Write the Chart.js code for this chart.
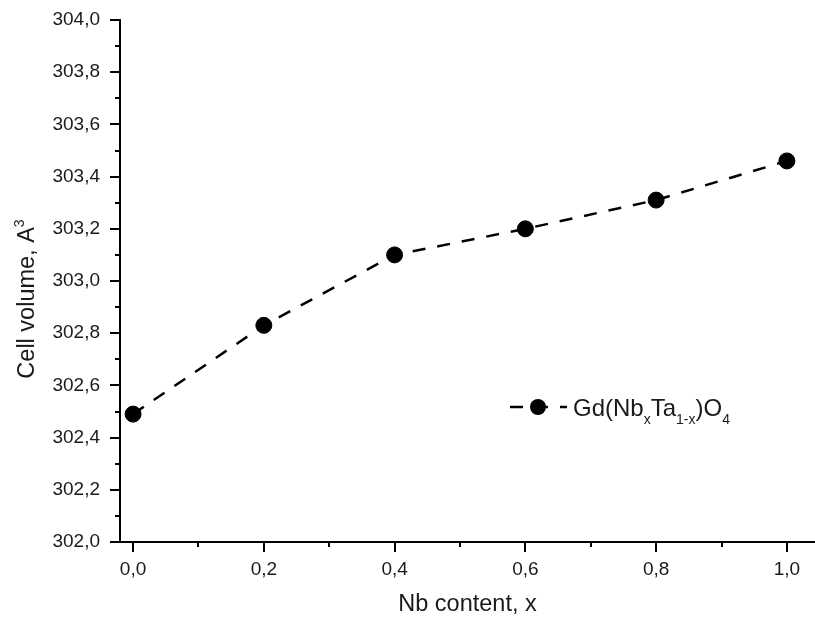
<!DOCTYPE html>
<html>
<head>
<meta charset="utf-8">
<script src="https://cdn.jsdelivr.net/npm/chart.js@4.4.1/dist/chart.umd.min.js"></script>
<style>
  html, body { margin: 0; padding: 0; background: #fff; }
  #wrap { width: 815px; height: 624px; }
</style>
</head>
<body>
<div id="wrap"><canvas id="volume-chart" width="815" height="624"></canvas></div>
<script>
// Nb content (x) and refined cell volume
const nbContent = [0.0, 0.2, 0.4, 0.6, 0.8, 1.0];
const cellVolume = [302.49, 302.83, 303.10, 303.20, 303.31, 303.46];
const seriesName = 'Gd(NbxTa1-x)O4';
// legend text split into normal / subscript pieces
const legendParts = [
  { text: 'Gd(Nb', sub: false },
  { text: 'x', sub: true },
  { text: 'Ta', sub: false },
  { text: '1-x', sub: true },
  { text: ')O', sub: false },
  { text: '4', sub: true }
];
// y title with the superscript unit power
const yTitleParts = [
  { text: 'Cell volume, A', sup: false },
  { text: '3', sup: true }
];

const FONT = '"Liberation Sans", Arial, sans-serif';
const DASH = [13, 12];

const fmt = v => v.toFixed(1).replace('.', ',');
const isMajor = v => Math.round(v * 10) % 2 === 0;

// outward ticks: long on the labelled values, short in between
const tickMarks = {
  id: 'tickMarks',
  afterDraw(chart) {
    const ctx = chart.ctx;
    const xs = chart.scales.x, ys = chart.scales.y;
    ctx.save();
    ctx.strokeStyle = '#000';
    ctx.lineWidth = 2;
    ctx.beginPath();
    xs.ticks.forEach(t => {
      const px = Math.round(xs.getPixelForValue(t.value));
      const len = isMajor(t.value) ? 10 : 5;
      ctx.moveTo(px, xs.top);
      ctx.lineTo(px, xs.top + len);
    });
    ys.ticks.forEach(t => {
      const py = Math.round(ys.getPixelForValue(t.value));
      const len = isMajor(t.value) ? 10 : 5;
      ctx.moveTo(ys.right, py);
      ctx.lineTo(ys.right - len, py);
    });
    ctx.stroke();
    ctx.restore();
  }
};

// rotated y title, drawn by hand so the "3" can sit raised
const yTitle = {
  id: 'yTitle',
  afterDraw(chart, args, opts) {
    const ctx = chart.ctx;
    const area = chart.chartArea;
    ctx.save();
    ctx.fillStyle = '#1a1a1a';
    ctx.textBaseline = 'alphabetic';
    ctx.textAlign = 'left';
    let total = 0;
    yTitleParts.forEach(p => {
      ctx.font = (p.sup ? '14px ' : '23.5px ') + FONT;
      total += ctx.measureText(p.text).width;
    });
    const midY = (area.top + area.bottom) / 2 + opts.shift;
    ctx.translate(opts.baseline, midY + total / 2);
    ctx.rotate(-Math.PI / 2);
    let tx = 0;
    yTitleParts.forEach(p => {
      ctx.font = (p.sup ? '14px ' : '23.5px ') + FONT;
      ctx.fillText(p.text, tx, p.sup ? -10 : 0);
      tx += ctx.measureText(p.text).width;
    });
    ctx.restore();
  }
};

// legend: dashed line with marker, then formula with subscripts
const formulaLegend = {
  id: 'formulaLegend',
  afterDatasetsDraw(chart, args, opts) {
    const ctx = chart.ctx;
    const cx = opts.x, cy = opts.y;
    ctx.save();
    ctx.strokeStyle = '#000';
    ctx.lineWidth = 2.5;
    ctx.setLineDash(DASH);
    ctx.beginPath();
    ctx.moveTo(cx - 28, cy);
    ctx.lineTo(cx + 29, cy);
    ctx.stroke();
    ctx.setLineDash([]);
    ctx.fillStyle = '#000';
    ctx.beginPath();
    ctx.arc(cx, cy, 8, 0, Math.PI * 2);
    ctx.fill();

    let tx = cx + 35;
    const base = cy + 8.5;
    ctx.fillStyle = '#1a1a1a';
    ctx.textBaseline = 'alphabetic';
    ctx.textAlign = 'left';
    legendParts.forEach(p => {
      ctx.font = (p.sub ? '14px ' : '24px ') + FONT;
      ctx.fillText(p.text, tx, p.sub ? base + 8.5 : base);
      tx += ctx.measureText(p.text).width;
    });
    ctx.restore();
  }
};

new Chart(document.getElementById('volume-chart'), {
  type: 'scatter',
  data: {
    datasets: [{
      label: seriesName,
      data: nbContent.map((x, i) => ({ x: x, y: cellVolume[i] })),
      showLine: true,
      borderColor: '#000',
      borderWidth: 2.5,
      borderDash: DASH,
      backgroundColor: '#000',
      pointRadius: 8,
      pointHoverRadius: 8,
      pointBorderWidth: 1,
      pointBackgroundColor: '#000',
      pointBorderColor: '#000',
      clip: false
    }]
  },
  options: {
    responsive: false,
    animation: false,
    layout: { autoPadding: false, padding: { top: 20, right: 0, bottom: 0, left: 0 } },
    plugins: {
      legend: { display: false },
      tooltip: { enabled: false },
      formulaLegend: { x: 538, y: 407 },
      yTitle: { baseline: 34, shift: 18 }
    },
    scales: {
      x: {
        type: 'linear',
        min: -0.02,
        max: 1.043,
        afterFit(scale) {
          scale.height = 82;
          scale.paddingLeft = 0;
          scale.paddingRight = 0;
        },
        border: { display: true, color: '#000', width: 2 },
        grid: { drawOnChartArea: false, drawTicks: true, tickLength: 10, tickColor: 'rgba(0,0,0,0)' },
        ticks: {
          stepSize: 0.1,
          includeBounds: false,
          autoSkip: false,
          maxRotation: 0,
          padding: 6,
          color: '#1a1a1a',
          font: { family: FONT, size: 19 },
          callback: v => isMajor(v) ? fmt(v) : ''
        },
        title: {
          display: true,
          text: 'Nb content, x',
          color: '#1a1a1a',
          font: { family: FONT, size: 23.5 },
          padding: { top: 0, bottom: 5 }
        }
      },
      y: {
        type: 'linear',
        min: 302,
        max: 304,
        afterFit(scale) {
          scale.width = 120;
          scale.paddingTop = 0;
          scale.paddingBottom = 0;
        },
        border: { display: true, color: '#000', width: 2 },
        grid: { drawOnChartArea: false, drawTicks: true, tickLength: 10, tickColor: 'rgba(0,0,0,0)' },
        ticks: {
          stepSize: 0.1,
          autoSkip: false,
          padding: 10,
          color: '#1a1a1a',
          font: { family: FONT, size: 19 },
          callback: v => isMajor(v) ? fmt(v) : ''
        },
        title: { display: false }
      }
    }
  },
  plugins: [tickMarks, yTitle, formulaLegend]
});
</script>
</body>
</html>
